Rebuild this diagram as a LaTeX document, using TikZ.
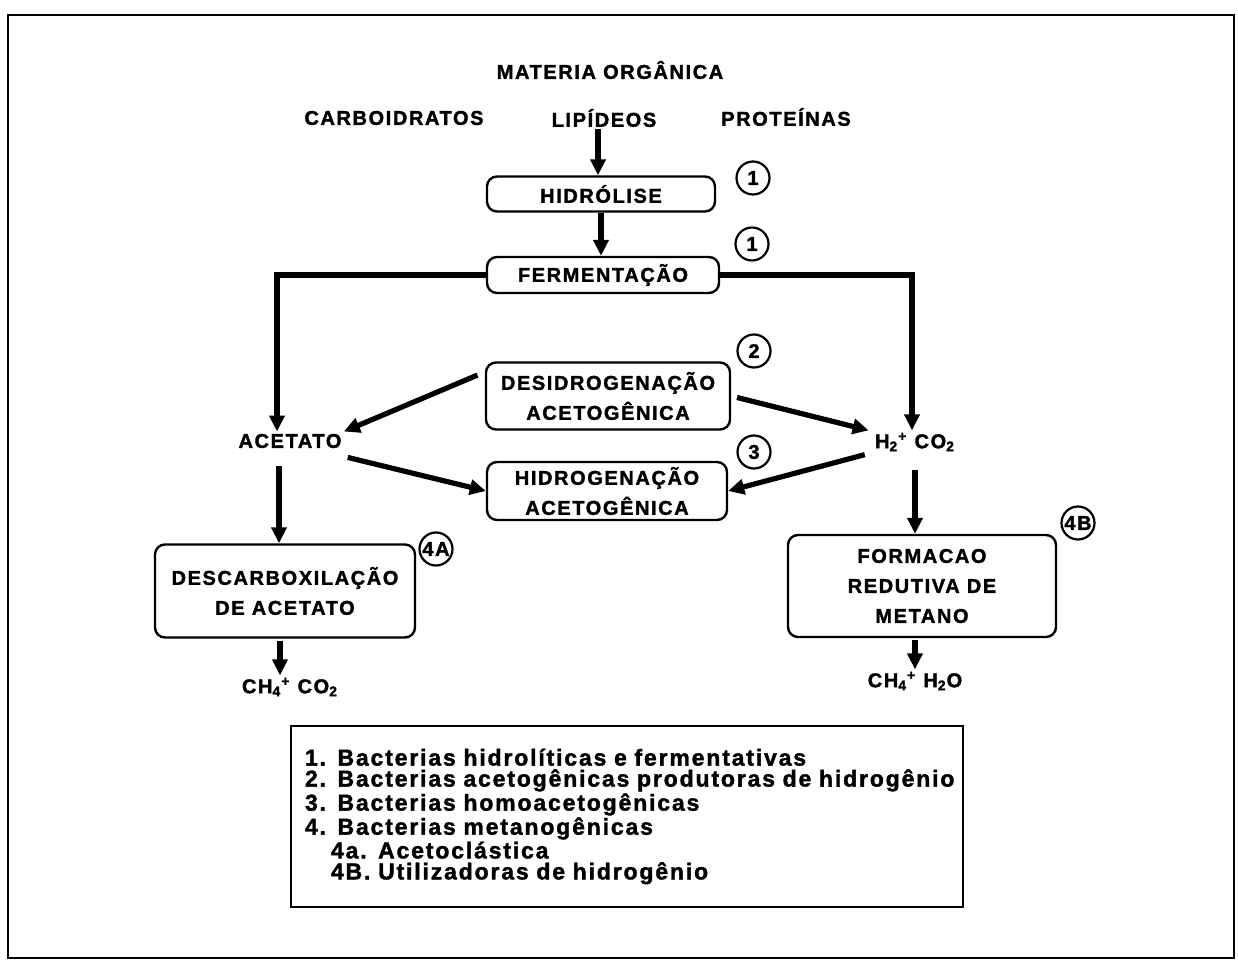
\documentclass[tikz,border=0pt]{standalone}
\usepackage{fontspec}
\setmainfont{Liberation Sans}
\newfontfamily\largo{Liberation Sans}[LetterSpace=8, BoldFeatures={FakeBold=1.6}]
\usetikzlibrary{arrows.meta}

\tikzset{
  titulo/.style={inner sep=1pt, font=\largo\bfseries\fontsize{10}{15}\selectfont},
  etapa/.style={draw, line width=1.2pt, rounded corners=5pt, align=center, inner sep=1pt,
    font=\largo\bfseries\fontsize{10}{15}\selectfont},
  fase/.style={draw, circle, line width=1.1pt, minimum size=16.5pt, inner sep=0pt,
    font=\largo\bfseries\fontsize{10}{10}\selectfont},
  seta/.style={line width=2.6pt, -{Triangle[length=8pt,width=7.5pt]}},
}

\begin{document}
\begin{tikzpicture}[x=0.5pt,y=0.5pt]
  \useasboundingbox (0,0) rectangle (1238,-962);
  \draw[line width=1.3pt] (8,-15) rectangle (1234,-958);

  \node[titulo] (materia) at (610,-70) {MATERIA ORGÂNICA};
  \node[titulo] (carb) at (394,-118) {CARBOIDRATOS};
  \node[titulo] (lip) at (604,-118) {LIPÍDEOS};
  \node[titulo] (prot) at (786,-117) {PROTEÍNAS};

  \node[etapa, minimum width=114pt, minimum height=17.5pt] (hidro) at (601,-194) {HIDRÓLISE};
  \node[etapa, minimum width=116pt, minimum height=18pt] (ferm) at (603,-275) {FERMENTAÇÃO};
  \node[etapa, minimum width=122pt, minimum height=33.5pt] (desid) at (608,-396) {DESIDROGENAÇÃO\\ACETOGÊNICA};
  \node[etapa, minimum width=120pt, minimum height=29pt] (hidrog) at (607,-491) {HIDROGENAÇÃO\\ACETOGÊNICA};
  \node[etapa, minimum width=130pt, minimum height=46.5pt] (descarb) at (285,-591) {DESCARBOXILAÇÃO\\DE ACETATO};
  \node[etapa, minimum width=134pt, minimum height=51pt] (formac) at (922,-586) {FORMACAO\\REDUTIVA DE\\METANO};

  \node[titulo] (acetato) at (290,-441) {ACETATO};
  \node[titulo] (h2co2) at (915,-442) {H\textsubscript{2}\textsuperscript{+} CO\textsubscript{2}};
  \node[titulo] (ch4co2) at (290,-687) {CH\textsubscript{4}\textsuperscript{+} CO\textsubscript{2}};
  \node[titulo] (ch4h2o) at (915,-681) {CH\textsubscript{4}\textsuperscript{+} H\textsubscript{2}O};

  \node[fase] (f1a) at (753,-178) {1};
  \node[fase] (f1b) at (752,-244) {1};
  \node[fase] (f2) at (754,-351) {2};
  \node[fase] (f3) at (754,-452) {3};
  \node[fase] (f4a) at (436,-549) {4A};
  \node[fase] (f4b) at (1078,-523) {4B};

  \coordinate (liparr) at ([xshift=-3pt]lip.south);
  \coordinate (acearr) at ([xshift=-5.5pt]acetato.south);
  \draw[seta] (liparr) -- (liparr |- hidro.north);
  \draw[seta] (hidro.south) -- (hidro.south |- ferm.north);
  \draw[seta] (ferm.west) -| ([xshift=-6.5pt]acetato.north);
  \draw[seta] (ferm.east) -| ([xshift=-1.5pt]h2co2.north);
  \draw[seta, shorten <=4pt] ([yshift=12pt]desid.west) -- (acetato.north east);
  \draw[seta, shorten <=3pt] (desid.east) -- ([xshift=-2pt]h2co2.north west);
  \draw[seta, shorten <=2pt] ([yshift=-3pt]acetato.south east) -- (hidrog.west);
  \draw[seta, shorten <=2pt] ([xshift=-2pt]h2co2.south west) -- (hidrog.east);
  \draw[seta, shorten <=8pt] (acearr) -- (acearr |- descarb.north);
  \draw[seta, shorten <=1pt] ([xshift=-2.5pt]descarb.south) -- ([xshift=-5pt]ch4co2.north);
  \draw[seta, shorten <=8pt] (h2co2.south) -- (h2co2.south |- formac.north);
  \draw[seta, shorten <=1pt] (ch4h2o.north |- formac.south) -- (ch4h2o.north);

  \node[draw, line width=1pt, anchor=north west, text width=322pt, inner xsep=7pt,
    inner ysep=2pt, minimum height=90.5pt, align=left,
    font=\largo\bfseries\fontsize{11.5}{10.5}\selectfont] (legenda) at (290,-725)
    {1. Bacterias hidrolíticas e fermentativas\\
     2. Bacterias acetogênicas produtoras de hidrogênio\\
     3. Bacterias homoacetogênicas\\
     4. Bacterias metanogênicas\\
     \hspace*{13pt}4a. Acetoclástica\\
     \hspace*{13pt}4B. Utilizadoras de hidrogênio};
\end{tikzpicture}
\end{document}
